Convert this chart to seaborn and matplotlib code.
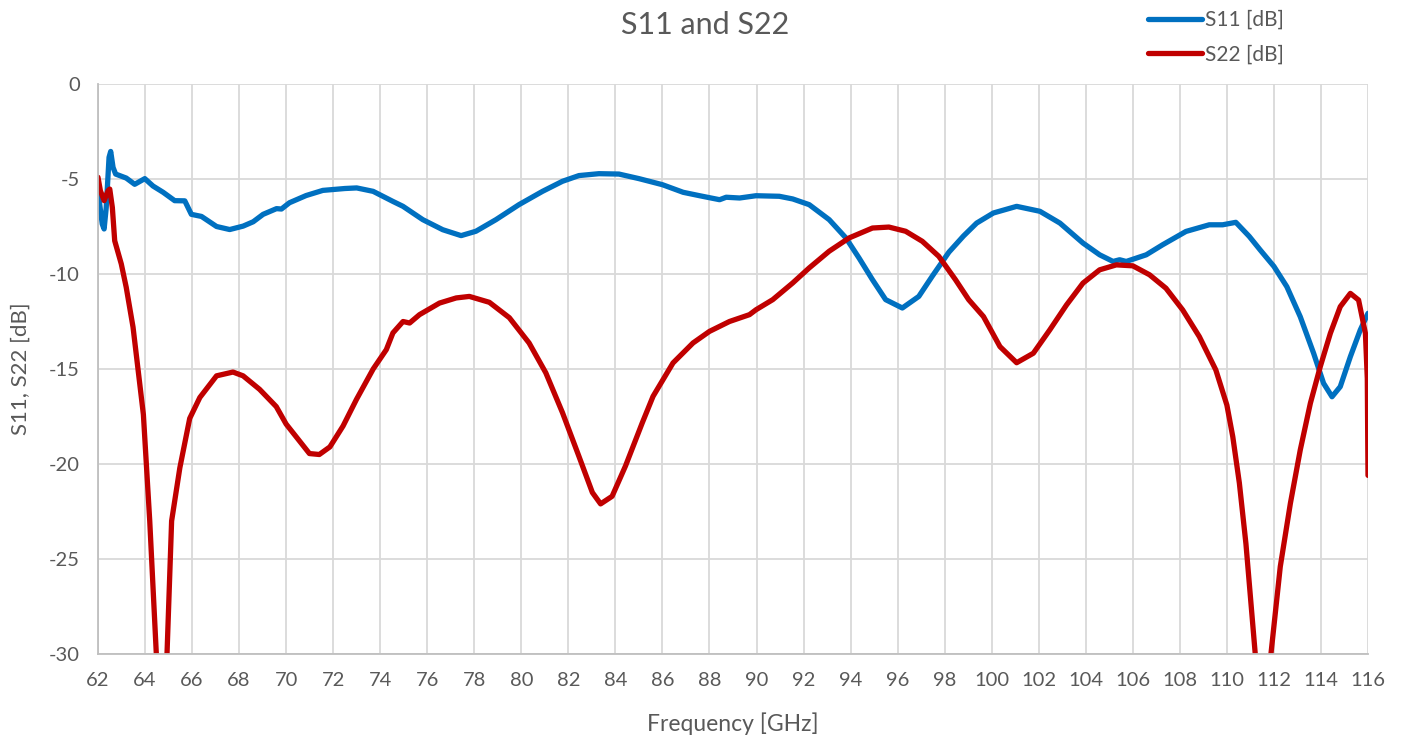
import numpy as np
import pandas as pd
import seaborn as sns
import matplotlib
matplotlib.use("Agg")
import matplotlib.pyplot as plt

# S11 trace
s11_freq = [62.0, 62.1, 62.18, 62.26, 62.35, 62.47, 62.54, 62.64, 62.75, 63.2,
            63.56, 63.99, 64.34, 64.77, 65.26, 65.69, 65.97, 66.4, 67.04, 67.6,
            68.17, 68.6, 69.02, 69.59, 69.8, 70.14, 70.85, 71.56, 72.5, 73.0,
            73.7, 74.54, 74.97, 75.81, 76.66, 77.44, 78.07, 78.92, 79.9, 80.9,
            81.75, 82.45, 83.3, 84.15, 85.0, 86.0, 86.88, 87.58, 88.43, 88.71,
            89.28, 89.98, 90.97, 91.54, 92.24, 93.09, 93.8, 94.36, 94.93, 95.49,
            96.2, 96.9, 97.47, 98.18, 98.8, 99.36, 100.07, 101.06, 102.05, 102.9,
            103.88, 104.59, 105.16, 105.44, 105.72, 106.57, 107.27, 108.26, 109.25, 109.82,
            110.38, 110.95, 111.42, 112.0, 112.55, 113.12, 113.69, 114.11, 114.47, 114.82,
            115.25, 115.67, 116.0]
s11_db = [-5.6, -6.6, -7.37, -7.63, -6.5, -3.86, -3.55, -4.39, -4.74, -4.95,
          -5.28, -4.98, -5.37, -5.7, -6.14, -6.15, -6.86, -6.97, -7.5, -7.66,
          -7.48, -7.25, -6.86, -6.56, -6.58, -6.25, -5.87, -5.6, -5.5, -5.47,
          -5.65, -6.18, -6.44, -7.14, -7.67, -7.98, -7.75, -7.14, -6.35, -5.65,
          -5.12, -4.82, -4.72, -4.74, -4.98, -5.3, -5.7, -5.88, -6.09, -5.96,
          -6.0, -5.88, -5.91, -6.05, -6.35, -7.14, -8.1, -9.16, -10.3, -11.35,
          -11.79, -11.18, -10.12, -8.85, -8.0, -7.32, -6.79, -6.44, -6.7, -7.32,
          -8.37, -8.99, -9.34, -9.25, -9.34, -8.99, -8.46, -7.76, -7.41, -7.41,
          -7.28, -8.02, -8.74, -9.6, -10.67, -12.25, -14.18, -15.75, -16.46, -15.93,
          -14.35, -12.95, -12.07]

# S22 trace
s22_freq = [62.0, 62.1, 62.26, 62.43, 62.5, 62.61, 62.71, 62.99, 63.2, 63.49,
            63.93, 64.2, 64.5, 64.72, 64.92, 65.13, 65.48, 65.9, 66.33, 67.04,
            67.74, 68.17, 68.87, 69.58, 70.0, 70.99, 71.41, 71.86, 72.42, 72.99,
            73.7, 74.26, 74.54, 74.97, 75.25, 75.67, 76.52, 77.23, 77.79, 78.64,
            79.49, 80.33, 81.04, 81.75, 82.45, 83.02, 83.37, 83.86, 84.43, 85.14,
            85.6, 86.45, 87.3, 88.0, 88.85, 89.7, 89.98, 90.69, 91.54, 92.24,
            93.09, 93.94, 94.93, 95.63, 96.34, 97.05, 97.75, 98.46, 99.02, 99.65,
            100.35, 101.06, 101.77, 102.47, 103.18, 103.88, 104.59, 105.3, 106.0, 106.71,
            107.41, 108.12, 108.83, 109.53, 110.0, 110.25, 110.53, 110.81, 111.24, 111.55,
            111.83, 112.27, 112.7, 113.12, 113.55, 113.97, 114.4, 114.82, 115.25, 115.6,
            115.89, 115.97, 116.0]
s22_db = [-4.91, -5.61, -6.14, -5.61, -5.53, -6.5, -8.25, -9.47, -10.7, -12.8,
          -17.4, -23.0, -30.5, -38.0, -30.5, -23.0, -20.2, -17.6, -16.5, -15.36,
          -15.16, -15.36, -16.07, -16.98, -17.9, -19.45, -19.5, -19.1, -18.0, -16.6,
          -15.0, -13.98, -13.1, -12.5, -12.58, -12.14, -11.53, -11.26, -11.18, -11.49,
          -12.3, -13.63, -15.2, -17.3, -19.6, -21.5, -22.1, -21.7, -20.1, -17.84,
          -16.44, -14.68, -13.63, -13.02, -12.5, -12.14, -11.88, -11.35, -10.47, -9.68,
          -8.8, -8.1, -7.58, -7.53, -7.75, -8.28, -9.07, -10.3, -11.35, -12.24,
          -13.82, -14.67, -14.17, -12.94, -11.63, -10.48, -9.78, -9.52, -9.57, -10.04,
          -10.75, -11.89, -13.3, -15.05, -16.9, -18.56, -21.0, -24.2, -30.5, -38.0,
          -30.5, -25.4, -22.07, -19.26, -16.8, -14.88, -13.12, -11.72, -11.02, -11.37,
          -13.12, -15.5, -20.6]

x_ticks = list(range(62, 117, 2))
y_ticks = [0, -5, -10, -15, -20, -25, -30]

df = pd.concat([
    pd.DataFrame({"Frequency": s11_freq, "dB": s11_db, "Trace": "S11 [dB]"}),
    pd.DataFrame({"Frequency": s22_freq, "dB": s22_db, "Trace": "S22 [dB]"}),
], ignore_index=True)

sns.set_theme(style="white")
plt.rcParams["font.family"] = ["Lato", "DejaVu Sans"]
plt.rcParams["axes.unicode_minus"] = False
text_col = "#595959"
grid_col = "#D9D9D9"

fig = plt.figure(figsize=(14.05, 7.37), dpi=100)
ax = fig.add_axes([98 / 1405, 1 - 654 / 737, 1270 / 1405, 570 / 737])

sns.lineplot(data=df, x="Frequency", y="dB", hue="Trace", sort=False, estimator=None,
             palette={"S11 [dB]": "#0070C0", "S22 [dB]": "#C00000"},
             linewidth=3.8, ax=ax)

ax.set_xlim(62, 116)
ax.set_ylim(-30, 0)
ax.set_xticks(x_ticks)
ax.set_yticks(y_ticks)
ax.grid(True, color=grid_col, linewidth=1.3)
ax.set_axisbelow(True)
for side in ["top", "right"]:
    ax.spines[side].set_visible(False)
for side in ["left", "bottom"]:
    ax.spines[side].set_color("#BFBFBF")
    ax.spines[side].set_linewidth(1.3)
ax.tick_params(axis="both", length=0, pad=13, labelsize=14.5, labelcolor=text_col)

ax.set_xlabel("Frequency [GHz]", fontsize=16.5, color=text_col, labelpad=17)
ax.set_ylabel("S11, S22 [dB]", fontsize=16, color=text_col, labelpad=13)

fig.text(705 / 1405, 1 - 25 / 737, "S11 and S22", ha="center", va="center",
         fontsize=22, color=text_col)

handles, labels = ax.get_legend_handles_labels()
ax.get_legend().remove()
fig.legend(handles, labels, loc="upper left", bbox_to_anchor=(1129 / 1405, 1.012),
           frameon=False, fontsize=15, labelcolor=text_col, handlelength=2.6,
           handletextpad=0.15, labelspacing=0.7)

fig.savefig("out.png", dpi=100)
